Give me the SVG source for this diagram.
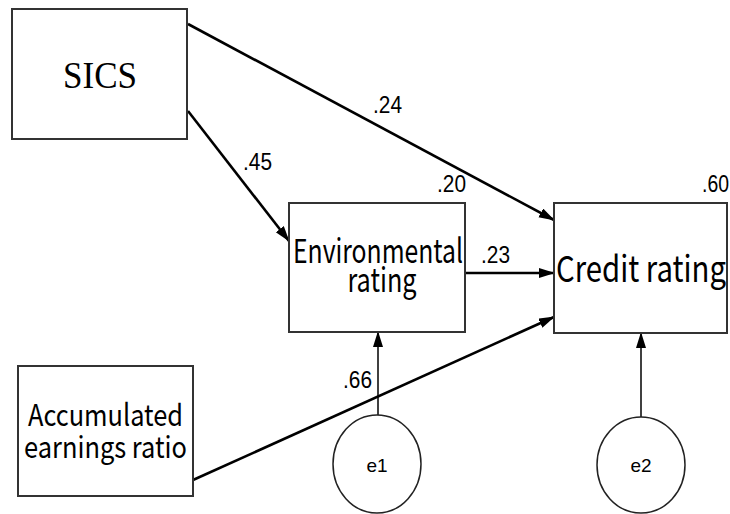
<svg xmlns="http://www.w3.org/2000/svg" width="730" height="514" viewBox="0 0 730 514">
  <style>
    .box { fill: #ffffff; stroke: #333333; stroke-width: 2; }
    .err { fill: #ffffff; stroke: #222222; stroke-width: 1.5; }
    .path { stroke: #000000; stroke-width: 2.6; fill: none; marker-end: url(#head); }
    .thin { stroke: #000000; stroke-width: 1.5; fill: none; marker-end: url(#headThin); }
    .lbl { font-family: "Noto Sans CJK JP", "Liberation Sans", sans-serif; fill: #000000; text-anchor: middle; }
    .coef { font-family: "Liberation Sans", Arial, sans-serif; font-size: 23px; fill: #000000; }
    .errlbl { font-family: "Liberation Sans", Arial, sans-serif; font-size: 19px; fill: #000000; text-anchor: middle; }
  </style>
  <defs>
    <marker id="head" markerUnits="userSpaceOnUse" markerWidth="16" markerHeight="12" refX="15" refY="5" orient="auto">
      <path d="M0,0 L16,5 L0,10 z" fill="#000000"/>
    </marker>
    <marker id="headThin" markerUnits="userSpaceOnUse" markerWidth="14" markerHeight="12" refX="14" refY="5" orient="auto">
      <path d="M0,0 L16,5 L0,10 z" fill="#000000"/>
    </marker>
  </defs>

  <rect width="730" height="514" fill="#ffffff"/>

  <g id="connectors">
    <line class="path" x1="188" y1="24" x2="554" y2="220"/>
    <line class="path" x1="188" y1="111" x2="289" y2="241"/>
    <line class="path" x1="465" y1="273" x2="554" y2="273"/>
    <line class="path" x1="193" y1="480" x2="554" y2="317"/>
    <line class="thin" x1="378" y1="415" x2="378" y2="333"/>
    <line class="thin" x1="641" y1="417" x2="641" y2="334"/>
  </g>

  <g id="sics">
    <rect class="box" x="12" y="9" width="175" height="130"/>
    <text x="100" y="88" font-family="Liberation Serif, serif" font-size="37" text-anchor="middle" textLength="74" lengthAdjust="spacingAndGlyphs">SICS</text>
  </g>

  <g id="environmental">
    <rect class="box" x="289" y="203" width="176" height="129"/>
    <text class="lbl" x="378" y="263" font-size="33" textLength="170" lengthAdjust="spacingAndGlyphs">Environmental</text>
    <text class="lbl" x="382" y="292" font-size="33" textLength="69" lengthAdjust="spacingAndGlyphs">rating</text>
  </g>

  <g id="credit">
    <rect class="box" x="554" y="203" width="173" height="130"/>
    <text class="lbl" x="641" y="282" font-size="36" textLength="170" lengthAdjust="spacingAndGlyphs">Credit rating</text>
  </g>

  <g id="accumulated">
    <rect class="box" x="18" y="366" width="175" height="130"/>
    <text class="lbl" x="105.5" y="426" font-size="30" textLength="155" lengthAdjust="spacingAndGlyphs">Accumulated</text>
    <text class="lbl" x="105.5" y="458" font-size="30" textLength="163" lengthAdjust="spacingAndGlyphs">earnings ratio</text>
  </g>

  <g id="e1">
    <ellipse class="err" cx="377" cy="464" rx="44" ry="49"/>
    <text class="errlbl" x="377" y="472">e1</text>
  </g>

  <g id="e2">
    <ellipse class="err" cx="641" cy="465" rx="44" ry="48"/>
    <text class="errlbl" x="641" y="472">e2</text>
  </g>

  <g id="coefficients">
    <text class="coef" x="373" y="113" textLength="29" lengthAdjust="spacingAndGlyphs">.24</text>
    <text class="coef" x="243" y="170" textLength="29" lengthAdjust="spacingAndGlyphs">.45</text>
    <text class="coef" x="437" y="192" textLength="29" lengthAdjust="spacingAndGlyphs">.20</text>
    <text class="coef" x="702" y="192" textLength="27" lengthAdjust="spacingAndGlyphs">.60</text>
    <text class="coef" x="481" y="263" textLength="29" lengthAdjust="spacingAndGlyphs">.23</text>
    <text class="coef" x="343" y="388" textLength="29" lengthAdjust="spacingAndGlyphs">.66</text>
  </g>
</svg>
